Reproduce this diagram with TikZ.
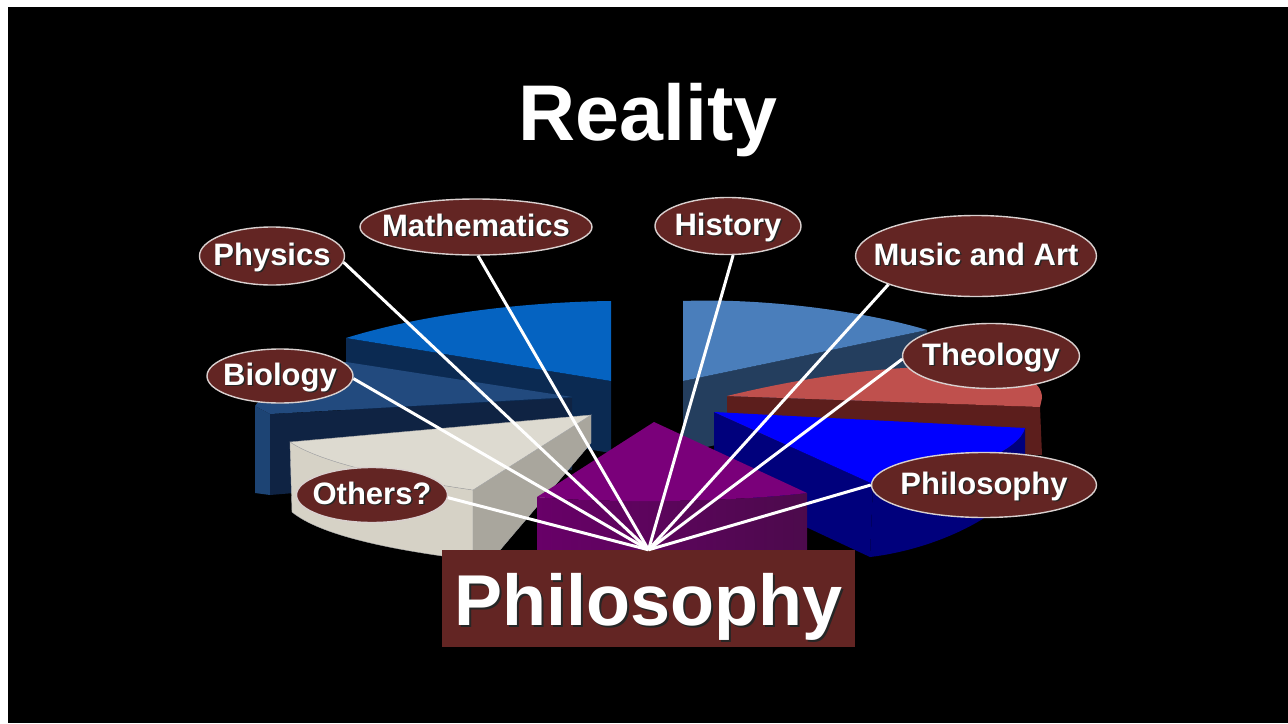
\documentclass[tikz,border=0pt]{standalone}
\usepackage{fontspec}
\setmainfont{Liberation Sans}
\usetikzlibrary{shapes.geometric}
\definecolor{maroon}{HTML}{632523}
\definecolor{rim}{HTML}{D9D0CF}
\definecolor{mathtop}{HTML}{0563C1}
\definecolor{mathside}{HTML}{0B2A52}
\definecolor{histtop}{HTML}{4A7EBB}
\definecolor{histside}{HTML}{243E5E}
\definecolor{theotop}{HTML}{BF504D}
\definecolor{theoside}{HTML}{5C1E1C}
\definecolor{biotop}{HTML}{224A7E}
\definecolor{bioside}{HTML}{0F2343}
\definecolor{bioedge}{HTML}{1D4474}
\definecolor{philtop}{HTML}{0000FF}
\definecolor{philside}{HTML}{00007C}
\definecolor{othtop}{HTML}{DDDAD0}
\definecolor{othedge}{HTML}{D6D2C6}
\definecolor{othside}{HTML}{A9A69D}
\definecolor{purtop}{HTML}{7A007A}
\definecolor{purleft}{HTML}{680068}
\definecolor{purright}{HTML}{4C0A4C}
\newcommand\shad[2][1.5pt]{\makebox[0pt]{\rlap{\kern#1\raisebox{-#1}{\textcolor{black!85}{#2}}}#2}}

\begin{document}
\begin{tikzpicture}[x=1pt, y=-1pt,
  bubble/.style={ellipse, draw=rim, line width=1.4pt, fill=maroon, inner sep=0pt, text=white,
    font=\fontsize{31}{31}\selectfont\bfseries, text height=22pt, text depth=4pt},
  link/.style={white, line width=3pt}]
\useasboundingbox[fill=white] (0,0) rectangle (1288,723);
\fill[black] (8,7) rectangle (1288,723);

\fill[mathside] (346,338) -- (611,381) -- (611,453) -- (346,410) -- cycle;
\fill[mathtop] (346,338) .. controls (420,315) and (520,302) .. (611,301) -- (611,381) -- cycle;

\fill[histside] (683,381) -- (927,330) -- (927,400) -- (683,452) -- cycle;
\fill[histtop] (683,301) .. controls (760,298) and (860,310) .. (927,330) -- (683,381) -- cycle;

\fill[theoside] (727,396) -- (1040,407) -- (1042,455) -- (727,445) -- cycle;
\fill[theotop] (727,396) .. controls (800,378) and (900,362) .. (980,368)
  .. controls (1020,372) and (1042,380) .. (1042,398) -- (1040,407) -- cycle;

\fill[bioedge] (255,406) -- (270,414) -- (270,495) -- (255,493) -- cycle;
\fill[bioside] (270,414) -- (572,398) -- (572,470) -- (270,495) -- cycle;
\fill[biotop] (255,406) .. controls (270,385) and (300,370) .. (346,362) -- (572,397) -- (270,414) -- cycle;

\fill[philside] (714,412) -- (873,484) -- (870,557) -- (714,484) -- cycle;
\fill[philside] (873,484) .. controls (960,478) and (1020,450) .. (1025,428) -- (1025,480)
  .. controls (1000,520) and (930,550) .. (870,557) -- cycle;
\fill[philtop] (714,412) -- (1025,428) .. controls (1020,450) and (960,478) .. (873,484) -- cycle;

\filldraw[othedge, draw=gray!60, thin] (290,442) .. controls (320,462) and (390,478) .. (473,490) -- (473,560)
  .. controls (390,550) and (320,535) .. (292,512) -- cycle;
\filldraw[othside, draw=gray!70, thin] (473,490) -- (591,415) -- (591,443) -- (500,550) -- (473,560) -- cycle;
\filldraw[othtop, draw=gray!70, thin] (290,442) -- (591,415) -- (473,490) .. controls (390,478) and (320,462) .. (290,442) -- cycle;

\shade[left color=purleft, right color=purright] (537,497) .. controls (600,503) and (720,503) .. (807,493) -- (807,552) -- (537,552) -- cycle;
\fill[purtop] (654,422) -- (807,493) .. controls (720,503) and (600,503) .. (537,497) -- cycle;

\node[white, font=\fontsize{79}{79}\selectfont\bfseries, anchor=base] (title) at (648,140) {Reality};
\node[fill=maroon, inner sep=0pt, minimum width=413pt, text height=75pt, text depth=22pt, text=white,
  font=\fontsize{72}{72}\selectfont\bfseries, anchor=base] (phil) at (648.5,625) {\shad[2.2pt]{Philosophy}};

\node[bubble, minimum width=145pt, minimum height=58pt] (physics) at (272,256) {\shad{Physics}};
\node[bubble, minimum width=232pt, minimum height=56pt] (maths) at (476,227) {\shad{Mathematics}};
\node[bubble, minimum width=146pt, minimum height=57pt] (history) at (728,226) {\shad{History}};
\node[bubble, minimum width=241pt, minimum height=81pt] (music) at (976,256) {\shad{Music and Art}};
\node[bubble, minimum width=177pt, minimum height=65pt] (theology) at (991,356) {\shad{Theology}};
\node[bubble, minimum width=225pt, minimum height=65pt] (philo) at (984,485) {\shad{Philosophy}};
\node[bubble, minimum width=146pt, minimum height=54pt] (biology) at (280,376) {\shad{Biology}};
\node[bubble, minimum width=151pt, minimum height=55pt] (others) at (372,495) {\shad{Others?}};

\draw[link] (physics.-5) -- (phil.north);
\draw[link] (maths.-86) -- (phil.north);
\draw[link] (history.-80) -- (phil.north);
\draw[link] (music.198) -- (phil.north);
\draw[link] (theology.182) -- (phil.north);
\draw[link] (philo.180) -- (phil.north);
\draw[link] (biology.-2) -- (phil.north);
\draw[link] (others.-2) -- (phil.north);
\end{tikzpicture}
\end{document}
